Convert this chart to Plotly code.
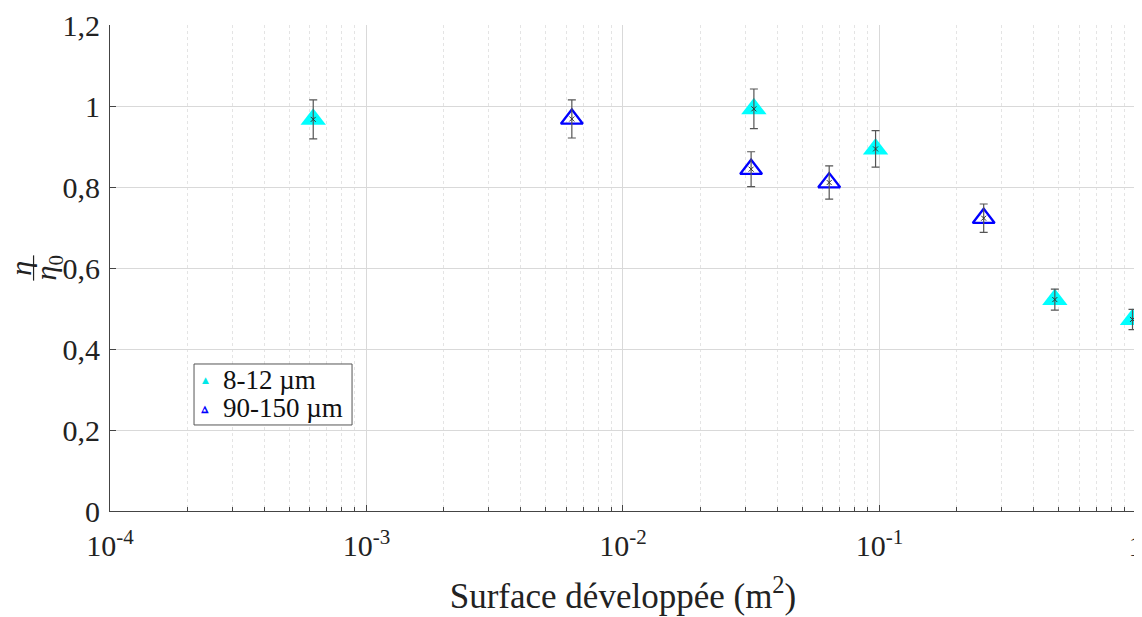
import plotly.graph_objects as go

# 8-12 µm series
x_small = [6.2e-4, 0.0324, 0.0966, 0.483, 0.97]
y_small = [0.967, 0.993, 0.894, 0.522, 0.473]
e_small = [0.048, 0.049, 0.045, 0.026, 0.025]

# 90-150 µm series
x_large = [0.00632, 0.0316, 0.0637, 0.255]
y_large = [0.968, 0.844, 0.811, 0.723]
e_large = [0.047, 0.043, 0.041, 0.035]

series_names = ["8-12 µm", "90-150 µm"]

xtick_vals = [1e-4, 1e-3, 1e-2, 1e-1, 1]
xtick_text = ["10<sup>-4</sup>", "10<sup>-3</sup>", "10<sup>-2</sup>", "10<sup>-1</sup>", "1"]
ytick_vals = [0, 0.2, 0.4, 0.6, 0.8, 1.0, 1.2]
ytick_text = ["0", "0,2", "0,4", "0,6", "0,8", "1", "1,2"]

minor_vals = [m * 10.0 ** e for e in range(-4, 0) for m in range(2, 10)]

FONT = "Liberation Serif"
CYAN = "#00FFFF"
BLUE = "#0000FF"

fig = go.Figure()

# triangles
fig.add_trace(go.Scatter(x=x_small, y=y_small, mode="markers", name=series_names[0],
                         showlegend=False, cliponaxis=False,
                         marker=dict(symbol="triangle-up", size=22, color=CYAN,
                                     line=dict(width=0))))
fig.add_trace(go.Scatter(x=x_large, y=y_large, mode="markers", name=series_names[1],
                         showlegend=False, cliponaxis=False,
                         marker=dict(symbol="triangle-up-open", size=19, color=BLUE,
                                     line=dict(width=2.3, color=BLUE))))
# error bars + x marks
for xs, ys, es in [(x_small, y_small, e_small), (x_large, y_large, e_large)]:
    fig.add_trace(go.Scatter(x=xs, y=ys, mode="markers", showlegend=False,
                             cliponaxis=False,
                             marker=dict(symbol="x-thin", size=5, color="#333333",
                                         line=dict(width=1, color="#333333")),
                             error_y=dict(type="data", array=es, visible=True,
                                          color="#555555", thickness=1.2, width=4)))

fig.update_layout(
    width=1134, height=609,
    margin=dict(l=102, r=6, t=17, b=106, autoexpand=False),
    paper_bgcolor="white", plot_bgcolor="white",
    font=dict(family=FONT, size=30, color="#222222"),
    showlegend=False,
)

fig.update_xaxes(type="log", range=[-4, 0.0004], tickvals=xtick_vals, ticktext=xtick_text,
                 showgrid=True, gridcolor="#d9d9d9", gridwidth=1,
                 ticks="inside", ticklen=6, tickcolor="#444444",
                 showline=True, linecolor="#444444", linewidth=1.2, zeroline=False,
                 minor=dict(tickvals=minor_vals, ticks="inside", ticklen=4,
                            tickcolor="#444444", showgrid=True,
                            gridcolor="#e4e4e4", griddash="dot", gridwidth=1),
                 tickfont=dict(size=30), automargin=False, ticklabelstandoff=8,
                 ticklabeloverflow="allow",
                 title=dict(text="Surface développée (m<sup>2</sup>)",
                            font=dict(size=35), standoff=22))
fig.update_yaxes(range=[0, 1.2], tickvals=ytick_vals, ticktext=ytick_text,
                 showgrid=True, gridcolor="#d9d9d9", gridwidth=1,
                 ticks="inside", ticklen=6, tickcolor="#444444",
                 showline=True, linecolor="#444444", linewidth=1.2, zeroline=False,
                 tickfont=dict(size=30), automargin=False, ticklabelstandoff=3)

# legend box (drawn manually to match the compact original)
fig.add_shape(type="rect", xref="paper", yref="paper", x0=0.0819, x1=0.2359,
              y0=0.177, y1=0.3025, line=dict(color="#555555", width=1),
              fillcolor="white", layer="above")
legend_y = [0.2695, 0.2119]
# 8-12 µm: small filled cyan triangle
fig.add_annotation(text="▲", xref="paper", yref="paper", x=0.0926, y=legend_y[0],
                   showarrow=False, xanchor="center", yanchor="middle",
                   font=dict(family="DejaVu Sans", size=9, color="#00E8E8"))
# 90-150 µm: small open blue triangle with thick outline
fig.add_annotation(text="▲", xref="paper", yref="paper", x=0.0926, y=legend_y[1],
                   showarrow=False, xanchor="center", yanchor="middle",
                   font=dict(family="DejaVu Sans", size=10, color=BLUE))
fig.add_annotation(text="▲", xref="paper", yref="paper", x=0.0926, y=legend_y[1] - 0.0025,
                   showarrow=False, xanchor="center", yanchor="middle",
                   font=dict(family="DejaVu Sans", size=4, color="white"))
for name, yy in zip(series_names, legend_y):
    fig.add_annotation(text=name, xref="paper", yref="paper", x=0.108, y=yy,
                       showarrow=False, xanchor="left", yanchor="middle",
                       font=dict(family=FONT, size=27, color="#111111"))

# y-axis label: eta / eta_0 as a rotated fraction
fig.add_annotation(text="<i>η</i>", xref="paper", yref="paper",
                   x=-0.088, y=0.5, showarrow=False, textangle=-90,
                   xanchor="center", yanchor="middle",
                   font=dict(family=FONT, size=30, color="#222222"))
fig.add_annotation(text="<i>η</i><sub>0</sub>", xref="paper", yref="paper",
                   x=-0.060, y=0.5, showarrow=False, textangle=-90,
                   xanchor="center", yanchor="middle",
                   font=dict(family=FONT, size=30, color="#222222"))
fig.add_shape(type="line", xref="paper", yref="paper", x0=-0.0745, x1=-0.0745,
              y0=0.474, y1=0.526, line=dict(color="#222222", width=1.2))

fig.write_html("out.html")
